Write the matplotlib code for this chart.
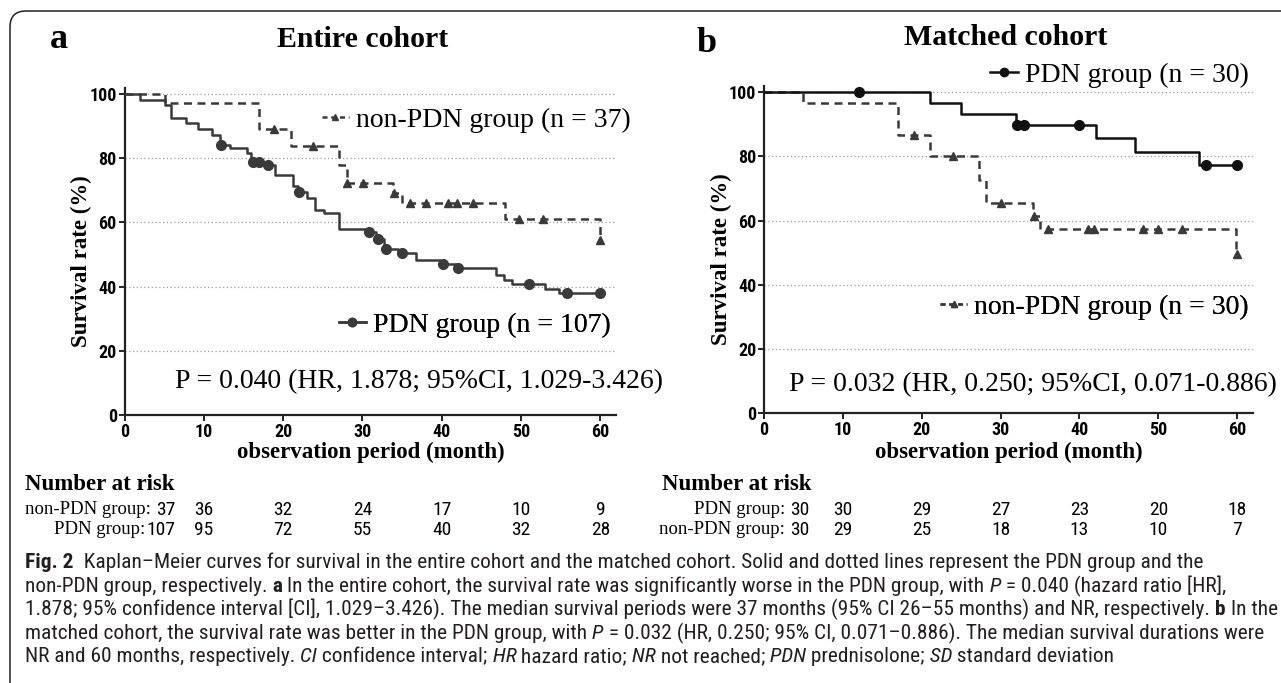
# Kaplan-Meier curves, entire cohort (a) and matched cohort (b)
import numpy as np
import matplotlib
matplotlib.use("Agg")
import matplotlib.pyplot as plt
from matplotlib import font_manager as fm
from matplotlib.patches import FancyBboxPatch
from matplotlib.lines import Line2D
from matplotlib.transforms import blended_transform_factory

W, H = 1281, 683

# ---- data ----
risk_months = [0, 10, 20, 30, 40, 50, 60]

# entire cohort, PDN group (solid)
a_pdn_t = [0, 2.0, 5.1, 5.9, 7.8, 9.3, 11.0, 12.0, 13.3, 15.4, 16.0, 17.6, 19.0, 21.3, 21.9,
           23.0, 24.0, 25.1, 27.0, 30.5, 31.7, 32.7, 34.5, 36.8, 39.8, 41.8, 46.8, 47.9,
           48.9, 53.0, 54.8]
a_pdn_s = [100, 98.2, 96.6, 92.6, 91.0, 89.0, 87.3, 84.2, 83.2, 81.6, 78.7, 77.9, 74.9, 71.2,
           69.5, 67.6, 64.0, 62.9, 57.9, 57.0, 54.8, 51.6, 50.5, 48.4, 47.0, 45.8, 43.5, 42.1,
           40.8, 39.3, 38.0]
a_pdn_cens = [12.2, 16.2, 17.0, 18.1, 22.0, 30.8, 32.0, 33.0, 35.0, 40.1, 42.1, 51.0, 55.8, 60.0]

# entire cohort, non-PDN group (dashed)
a_non_t = [0, 5.1, 16.9, 21.0, 27.0, 28.0, 33.9, 35.0, 48.0, 59.9]
a_non_s = [100, 97.3, 89.2, 83.8, 78.0, 72.3, 69.2, 65.9, 61.2, 54.5]
a_non_cens = [18.9, 23.8, 28.1, 30.1, 34.0, 36.0, 38.0, 40.8, 41.9, 44.0, 49.8, 52.8, 60.0]

# matched cohort, PDN group (solid)
b_pdn_t = [0, 21.1, 25.0, 32.0, 42.1, 47.1, 55.1]
b_pdn_s = [100, 96.6, 93.1, 89.7, 85.7, 81.5, 77.4]
b_pdn_cens = [12.0, 32.1, 33.0, 40.0, 56.0, 60.0]

# matched cohort, non-PDN group (dashed)
b_non_t = [0, 5.0, 17.0, 21.1, 27.2, 28.1, 34.1, 35.0, 59.9]
b_non_s = [100, 96.7, 86.7, 80.0, 72.7, 65.4, 61.3, 57.4, 49.5]
b_non_cens = [19.0, 24.0, 30.0, 34.2, 36.0, 41.1, 41.9, 48.1, 50.0, 53.0, 60.0]

risk_a_non = [37, 36, 32, 24, 17, 10, 9]
risk_a_pdn = [107, 95, 72, 55, 40, 32, 28]
risk_b_pdn = [30, 30, 29, 27, 23, 20, 18]
risk_b_non = [30, 29, 25, 18, 13, 10, 7]

caption = [
    [("Fig. 2", "b"), ("  Kaplan\u2013Meier curves for survival in the entire cohort and the matched cohort. "
                      "Solid and dotted lines represent the PDN group and the", "n")],
    [("non-PDN group, respectively.", "n"), (" a", "b"),
     (" In the entire cohort, the survival rate was significantly worse in the PDN group, with", "n"),
     (" P", "i"), (" = 0.040 (hazard ratio [HR],", "n")],
    [("1.878; 95% confidence interval [CI], 1.029\u20133.426). The median survival periods were 37 months "
      "(95% CI 26\u201355 months) and NR, respectively.", "n"), (" b", "b"), (" In the", "n")],
    [("matched cohort, the survival rate was better in the PDN group, with", "n"), (" P", "i"),
     (" = 0.032 (HR, 0.250; 95% CI, 0.071\u20130.886). The median survival durations were", "n")],
    [("NR and 60 months, respectively.", "n"), (" CI", "i"), (" confidence interval;", "n"),
     (" HR", "i"), (" hazard ratio;", "n"), (" NR", "i"), (" not reached;", "n"),
     (" PDN", "i"), (" prednisolone;", "n"), (" SD", "i"), (" standard deviation", "n")],
]

# ---- fonts ----
names = {f.name for f in fm.fontManager.ttflist}
narrow = "Liberation Sans"
for n in ["Liberation Sans Narrow", "Roboto Condensed", "Open Sans Condensed", "Liberation Sans"]:
    if n in names:
        narrow = n
        break
serif = "Liberation Serif"

fig = plt.figure(figsize=(W / 100, H / 100), dpi=100)
renderer = fig.canvas.get_renderer()


def fx(x):
    return x / W


def fy(y):
    return 1 - y / H


# frame around the figure (only top and left edges visible)
bg = fig.add_axes([0, 0, 1, 1])
bg.set_xlim(0, W)
bg.set_ylim(H, 0)
bg.axis("off")
bg.add_patch(FancyBboxPatch((10, 11), 1400, 800, boxstyle="round,pad=0,rounding_size=16",
                            fill=False, ec="#222222", lw=1.1))


def km(ax, t, s, cens, dashed, color, marker, ms):
    tt = np.r_[t, 60.0]
    ss = np.r_[s, s[-1]]
    ls = (0, (3.2, 2.2)) if dashed else "-"
    ax.step(tt, ss, where="post", color=color, lw=1.8, ls=ls, zorder=3)
    idx = np.searchsorted(t, cens, side="right") - 1
    ax.plot(cens, np.asarray(s)[idx], ls="none", marker=marker, ms=ms, color=color, zorder=4)


def setup(ax, xlab_y):
    ax.set_xlim(0, 62)
    ax.set_ylim(0, 102)
    ax.set_xticks(risk_months)
    ax.set_yticks([0, 20, 40, 60, 80, 100])
    for sp in ["top", "right"]:
        ax.spines[sp].set_visible(False)
    for sp in ["left", "bottom"]:
        ax.spines[sp].set_linewidth(1.6)
        ax.spines[sp].set_color("#222222")
    ax.tick_params(length=4, width=1.4, color="#222222", pad=1.5)
    for lab in ax.get_xticklabels() + ax.get_yticklabels():
        lab.set_family(narrow)
        lab.set_fontweight("bold")
        lab.set_fontsize(13)
    for y in [20, 40, 60, 80, 100]:
        ax.axhline(y, color="#9a9a9a", lw=0.9, ls=(0, (1, 2)), zorder=1)
    ax.set_xlabel("observation period (month)", family=serif, fontweight="bold", fontsize=16.5,
                  va="center")
    ax.xaxis.set_label_coords(0.5, xlab_y)
    ax.set_ylabel("Survival rate (%)", family=serif, fontweight="bold", fontsize=16.5, va="center")
    ax.yaxis.set_label_coords(-0.087, 0.47)


axa = fig.add_axes([fx(124.5), fy(415), (616.2 - 124.5) / W, (415 - 87.6) / H])
axb = fig.add_axes([fx(764), fy(413), (1253 - 764) / W, (413 - 85.9) / H])
setup(axa, -0.113)
setup(axb, -0.119)

grey = "#3a3a3a"
km(axa, a_non_t, a_non_s, a_non_cens, True, grey, "^", 6)
km(axa, a_pdn_t, a_pdn_s, a_pdn_cens, False, grey, "o", 7)
km(axb, b_non_t, b_non_s, b_non_cens, True, grey, "^", 6)
km(axb, b_pdn_t, b_pdn_s, b_pdn_cens, False, "#111111", "o", 7)


def leg(ax, label, dashed, color, marker, x_right, y):
    h = Line2D([], [], color=color, lw=1.8, ls=(0, (2, 1.5)) if dashed else "-",
               marker=marker, ms=5 if marker == "^" else 6)
    lg = ax.legend([h], [label], loc="center right", bbox_to_anchor=(fx(x_right), fy(y)),
                   bbox_transform=fig.transFigure, frameon=False, borderpad=0, borderaxespad=0,
                   handlelength=1.0, handletextpad=0.25, numpoints=1,
                   prop=dict(family=serif, size=20))
    ax.add_artist(lg)


leg(axa, "non-PDN group (n = 37)", True, grey, "^", 631, 120)
leg(axa, "PDN group (n = 107)", False, grey, "o", 611, 325)
leg(axb, "PDN group (n = 30)", False, "#111111", "o", 1249, 75)
leg(axb, "non-PDN group (n = 30)", True, grey, "^", 1249, 307)

fig.text(fx(175), fy(382), "P = 0.040 (HR, 1.878; 95%CI, 1.029-3.426)", family=serif, fontsize=20,
         ha="left", va="center")
fig.text(fx(789), fy(385), "P = 0.032 (HR, 0.250; 95%CI, 0.071-0.886)", family=serif, fontsize=20,
         ha="left", va="center")

# panel letters and titles
fig.text(fx(50), fy(48), "a", family=serif, fontweight="bold", fontsize=26, va="baseline")
fig.text(fx(363), fy(47), "Entire cohort", family=serif, fontweight="bold", fontsize=21.5,
         ha="center", va="baseline")
fig.text(fx(697), fy(52), "b", family=serif, fontweight="bold", fontsize=26, va="baseline")
fig.text(fx(1006), fy(45), "Matched cohort", family=serif, fontweight="bold", fontsize=21.5,
         ha="center", va="baseline")


# number at risk tables
def risk_table(ax, x_head, x_first, rows):
    fig.text(fx(x_head), fy(485), "Number at risk", family=serif, fontweight="bold", fontsize=16.5,
             ha="left", va="center")
    tr = blended_transform_factory(ax.transData, fig.transFigure)
    for (label, counts, gap), y in zip(rows, [510, 530]):
        t0 = fig.text(fx(x_first), fy(y), str(counts[0]), family=narrow, fontsize=14,
                      ha="right", va="center")
        w0 = t0.get_window_extent(renderer).width
        fig.text(fx(x_first - w0 - gap), fy(y), label, family=serif, fontsize=13.5,
                 ha="right", va="center")
        for m, c in zip(risk_months[1:], counts[1:]):
            ax.text(m, fy(y), str(c), transform=tr, family=narrow, fontsize=14,
                    ha="center", va="center")


risk_table(axa, 25, 175, [("non-PDN group:", risk_a_non, 5), ("PDN group:", risk_a_pdn, 1)])
risk_table(axb, 662, 809, [("PDN group:", risk_b_pdn, 5), ("non-PDN group:", risk_b_non, 5)])

# caption with mixed styles
def run_width(txt, style, size):
    t = fig.text(0, 0, txt, family=narrow, fontsize=size,
                 fontweight="bold" if style == "b" else "normal",
                 fontstyle="italic" if style == "i" else "normal")
    w = t.get_window_extent(renderer).width
    t.remove()
    return w


base = 10
longest = max(sum(run_width(t, s, base) for t, s in line) for line in caption)
cap_size = base * 1248 / longest

for line, y in zip(caption, [568, 592, 615, 639, 662]):
    x = 25
    for txt, style in line:
        t = fig.text(fx(x), fy(y), txt, family=narrow, fontsize=cap_size, color="#231f20",
                     fontweight="bold" if style == "b" else "normal",
                     fontstyle="italic" if style == "i" else "normal",
                     ha="left", va="baseline")
        x += t.get_window_extent(renderer).width

fig.savefig("out.png", dpi=100)
